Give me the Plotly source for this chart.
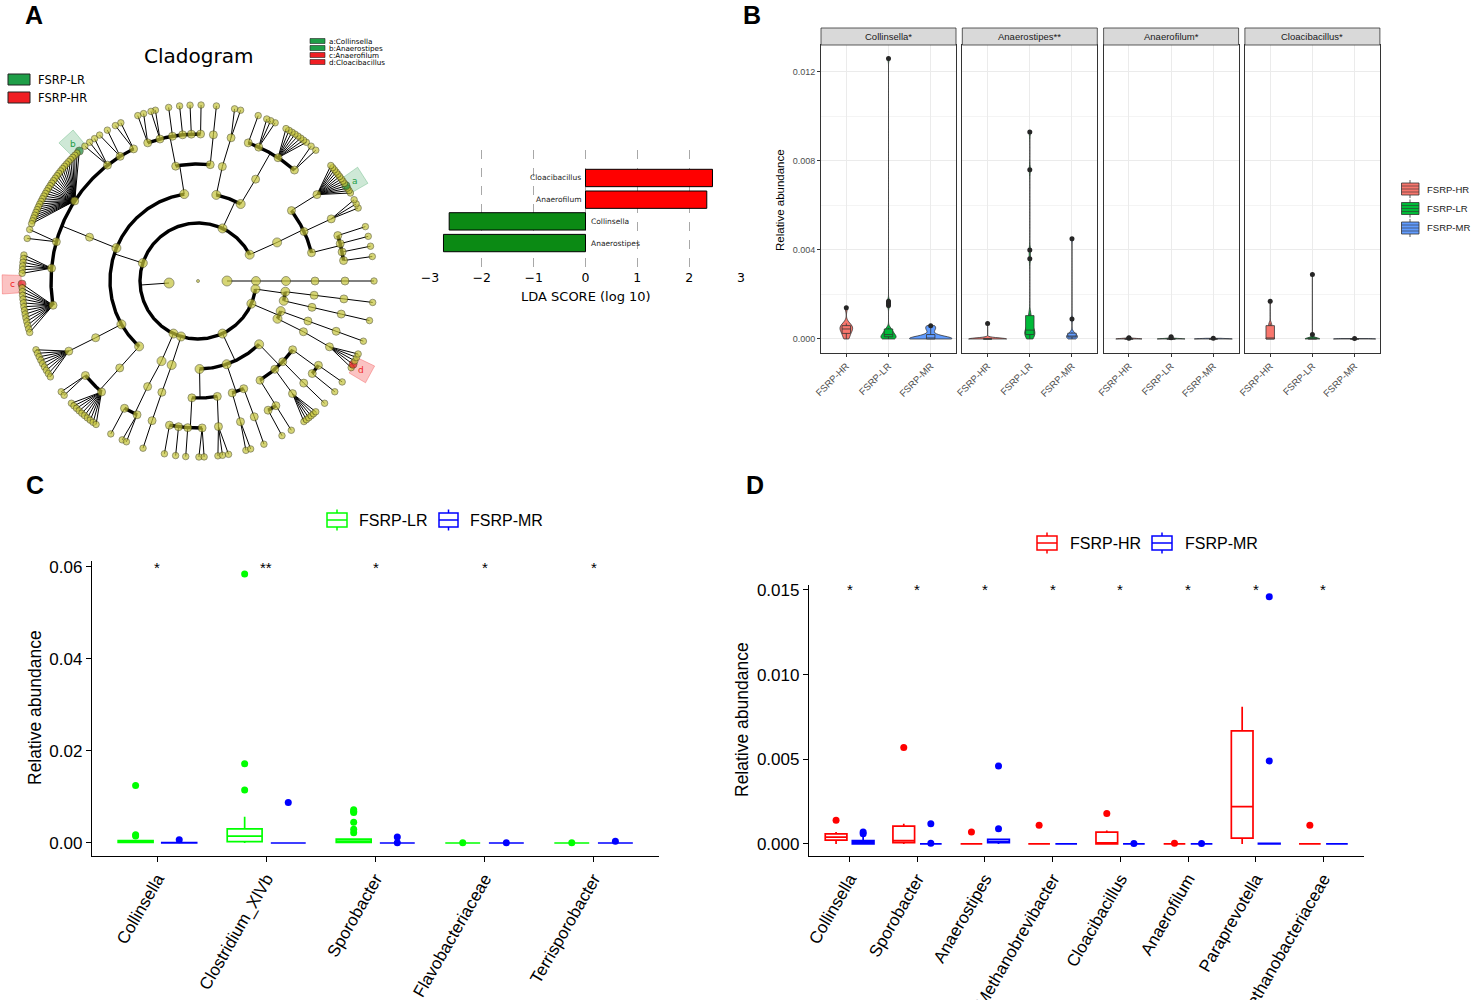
import math
import plotly.graph_objects as go

W, H = 1476, 1000
SANS = "Liberation Sans, Arial, sans-serif"
MPL = "DejaVu Sans, sans-serif"


def px(x):
    return x / W


def py(y):
    return 1 - y / H


# ---------------- data: panel A (LEfSe) ----------------
lda_taxa = ["Anaerostipes", "Collinsella", "Anaerofilum", "Cloacibacillus"]
lda_score = [-2.74, -2.63, 2.34, 2.45]
lda_class = ["FSRP-LR", "FSRP-LR", "FSRP-HR", "FSRP-HR"]
class_names = ["FSRP-LR", "FSRP-HR"]
class_colors = {"FSRP-LR": "#1F9E48", "FSRP-HR": "#F01E23"}
bar_colors = {"FSRP-LR": "#0B8A14", "FSRP-HR": "#FF0000"}

# biomarkers on the cladogram: letter, taxon, class, angle of the leaf
marker_letters = ["a", "b", "c", "d"]
marker_taxa = ["Collinsella", "Anaerostipes", "Anaerofilum", "Cloacibacillus"]
marker_class = ["FSRP-LR", "FSRP-LR", "FSRP-HR", "FSRP-HR"]
marker_angle = [32.7, 132.4, 181, 331.5]

# taxonomy tree: [angle, child, ...]; a number is a leaf,
# ("fan", from, to, n) is a fan of n leaves between two angles
FAN = "fan"
clade_tree = [
    0,
    [0, [0, [0, [0, [0, 0]]]]],
    [184,
        [27, [26,
              [37, [36, (FAN, 30, 41, 13)]],
              [25, [25, 24.5, 26, 27.5]],
              [14, [18, 18], [14.7, 14.7], [11.4, 11.4], [8, 8]]]],
        [65,
            [78, [78, [77, 76, 78]]],
            [61, [60.5, [70, 70], [65.6, 64, 65.6, 67], [57, (FAN, 52, 60, 8)], [49, 48, 50]]]],
        [162,
            [99, [101, [110, 108, 110], [105, 104, 105.5], [100, 99.6], [96, 96], [92.6, 92.6], [89, 89]],
                 [84, [84, 84]]],
            [158, [158, [116, 116, 118], [122, 121, 124], [128, 126, 128, 130],
                   [147, (FAN, 132.4, 161, 30)], [164.5, 163, 166],
                   [175, (FAN, 171.5, 177.5, 6)], [189.5, (FAN, 181, 197, 14)]]],
            [209.5, [209, [208.5, (FAN, 203, 213, 9)]]],
            [228, [228, [220, 219, 220.5], [229, (FAN, 224, 234.6, 10)]]]],
        [245, [245.5, [244.5, [240, 240.3], [245.5, 244.5, 246]]]],
        [253, [252.6, [252, [251.8, 251.8]]]],
        [295,
            [271, [267, [258.8, 259], [262.4, 262.7], [266, 266], [271.6, 270.3, 272]],
                  [279.5, [278, 276.5, 278, 280]]],
            [289, [287, [286.8, 285.8, 287.4]], [293, [292.5, 292]]],
            [314, [302, [298.5, 298.5], [302, 302]],
                  [311, [310, (FAN, 307, 312, 6)]],
                  [316.4, [316, 316]],
                  [324, [321, 321], [325, 325]]]],
        [337, [334.6, [334.3, [333.4, (FAN, 330.5, 335.5, 5)]]],
              [340, [340, [340, 340]]]],
        [352, [353, [353, [353, 353]]], [347, [347, [347, 347]]]]],
]

# ---------------- data: panel B ----------------
b_facets = ["Collinsella*", "Anaerostipes**", "Anaerofilum*", "Cloacibacillus*"]
b_groups = ["FSRP-HR", "FSRP-LR", "FSRP-MR"]
b_colors = ["#F8766D", "#00BA38", "#619CFF"]
# each: [HR, LR, MR]
b_collinsella = [
    [0, 0.0001, 0.0002, 0.0003, 0.0004, 0.0004, 0.0005, 0.0005, 0.0006, 0.0006, 0.0007, 0.0014],
    [0, 0, 0, 0, 0.0001, 0.0001, 0.0001, 0.0001, 0.0002, 0.0002, 0.0002, 0.0003, 0.0003,
     0.0004, 0.0004, 0.0005, 0.0015, 0.0016, 0.0017, 0.0126],
    [0, 0, 0, 0, 0, 0, 0, 0, 0.0001, 0.0001, 0.0002, 0.0004, 0.0005, 0.0006],
]
b_anaerostipes = [
    [0, 0, 0, 0, 0, 0, 0, 0, 0, 0, 0, 0.0007],
    [0, 0.0001, 0.0001, 0.0001, 0.0002, 0.0002, 0.0003, 0.0003, 0.0004, 0.0004, 0.0004, 0.0005,
     0.0006, 0.0008, 0.0010, 0.0011, 0.0036, 0.0040, 0.0076, 0.0093],
    [0, 0.00005, 0.00005, 0.0001, 0.0001, 0.0001, 0.0001, 0.00015, 0.0002, 0.00025, 0.0003, 0.0009, 0.0045],
]
b_anaerofilum = [
    [0, 0, 0, 0, 0, 0, 0, 0, 0, 0, 0.00003, 0.00005],
    [0, 0, 0, 0, 0, 0, 0, 0, 0, 0, 0.00005, 0.0001],
    [0, 0, 0, 0, 0, 0, 0, 0, 0, 0, 0, 0.00003],
]
b_cloacibacillus = [
    [0, 0, 0, 0, 0, 0, 0, 0.0002, 0.0006, 0.0006, 0.0007, 0.0017],
    [0, 0, 0, 0, 0, 0, 0, 0, 0, 0.0001, 0.0002, 0.0029],
    [0, 0, 0, 0, 0, 0, 0, 0, 0, 0, 0, 0.00002],
]
b_data = [b_collinsella, b_anaerostipes, b_anaerofilum, b_cloacibacillus]
b_violin_width = [[0.3, 0.36, 1.0], [0.9, 0.24, 0.26], [0.62, 0.66, 0.9], [0.2, 0.35, 1.0]]
b_bandwidth = [[0.00015, 0.0001, 0.0001], [0.00005, 0.0002, 0.0001],
               [0.00002, 0.00002, 0.00002], [0.0001, 0.00005, 0.00002]]

# ---------------- data: panel C ----------------
c_taxa = ["Collinsella", "Clostridium_XlVb", "Sporobacter", "Flavobacteriaceae", "Terrisporobacter"]
c_stars = ["*", "**", "*", "*", "*"]
c_lr = [
    [0, 0, 0.0001, 0.0001, 0.0002, 0.0002, 0.0002, 0.0003, 0.0003, 0.0004, 0.0005, 0.0005,
     0.0015, 0.0018, 0.0125],
    [0, 0, 0.0001, 0.0001, 0.0002, 0.0003, 0.0005, 0.0008, 0.0010, 0.0012, 0.0015, 0.0017,
     0.0019, 0.0021, 0.0022, 0.0024, 0.0050, 0.0057, 0.0115, 0.0172, 0.0585],
    [0, 0, 0, 0, 0.0001, 0.0001, 0.0001, 0.0002, 0.0002, 0.0002, 0.0003, 0.0003, 0.0003, 0.0004,
     0.0004, 0.0005, 0.0005, 0.0006, 0.0007, 0.0008, 0.0008, 0.0009,
     0.0022, 0.0030, 0.0045, 0.0066, 0.0069, 0.0072],
    [0, 0, 0, 0, 0, 0, 0, 0, 0, 0, 0.00005],
    [0, 0, 0, 0, 0, 0, 0, 0, 0, 0, 0.00003],
]
c_mr = [
    [0, 0, 0, 0, 0, 0, 0, 0.0001, 0.0001, 0.0002, 0.0007],
    [0, 0, 0, 0, 0, 0, 0, 0, 0, 0, 0.0088],
    [0, 0, 0, 0, 0, 0, 0, 0, 0, 0, 0.00005, 0.0013],
    [0, 0, 0, 0, 0, 0, 0, 0, 0, 0, 0.00005],
    [0, 0, 0, 0, 0, 0, 0, 0, 0, 0, 0.0004],
]

# ---------------- data: panel D ----------------
d_taxa = ["Collinsella", "Sporobacter", "Anaerostipes", "Methanobrevibacter", "Cloacibacillus",
          "Anaerofilum", "Paraprevotella", "Methanobacteriaceae"]
d_stars = ["*", "*", "*", "*", "*", "*", "*", "*"]
d_hr = [
    [0, 0.0001, 0.0002, 0.0003, 0.0004, 0.0004, 0.0005, 0.0006, 0.0006, 0.0007, 0.0014],
    [0, 0, 0.0001, 0.0002, 0.0002, 0.0008, 0.0010, 0.0012, 0.0057],
    [0, 0, 0, 0, 0, 0, 0, 0, 0, 0.0007],
    [0, 0, 0, 0, 0, 0, 0, 0, 0, 0.0011],
    [0, 0, 0, 0, 0, 0.0001, 0.0006, 0.0007, 0.0008, 0.0018],
    [0, 0, 0, 0, 0, 0, 0, 0, 0, 0.00005],
    [0, 0.0002, 0.0004, 0.0012, 0.0022, 0.0035, 0.0064, 0.0075, 0.0081],
    [0, 0, 0, 0, 0, 0, 0, 0, 0, 0.0011],
]
d_mr = [
    [0, 0, 0, 0, 0, 0, 0.0001, 0.0001, 0.0001, 0.0001, 0.0005, 0.0006, 0.0007],
    [0, 0, 0, 0, 0, 0, 0, 0, 0, 0.00005, 0.0012],
    [0, 0.00005, 0.00005, 0.0001, 0.0001, 0.0001, 0.00015, 0.0002, 0.00025, 0.0003, 0.0009, 0.0046],
    [0, 0, 0, 0, 0, 0, 0, 0, 0, 0],
    [0, 0, 0, 0, 0, 0, 0, 0, 0, 0.00003],
    [0, 0, 0, 0, 0, 0, 0, 0, 0, 0.00003],
    [0, 0, 0, 0, 0, 0, 0, 0, 0.00005, 0.0049, 0.0146],
    [0, 0, 0, 0, 0, 0, 0, 0, 0, 0],
]

fig = go.Figure()
shapes = []
annotations = []


def note(x, y, text, size, font=SANS, color="black", xanchor="center", yanchor="middle", **kw):
    annotations.append(dict(x=px(x), y=py(y), xref="paper", yref="paper", text=text,
                            showarrow=False, xanchor=xanchor, yanchor=yanchor,
                            font=dict(family=font, size=size, color=color), **kw))


# ---------------- A: cladogram ----------------
R_LEVEL = [0, 29, 58, 88, 117, 147, 176]
CX, CY = 198, 281


def pol(r, a):
    t = math.radians(a)
    return CX + r * math.cos(t), CY - r * math.sin(t)


thin_x, thin_y, thick_x, thick_y = [], [], [], []
nodes = []


def seg(xs, ys, pts):
    for p in pts:
        xs.append(p[0])
        ys.append(p[1])
    xs.append(None)
    ys.append(None)


def expand(children):
    out = []
    for c in children:
        if isinstance(c, tuple):
            _, a0, a1, n = c
            out += [a0 + (a1 - a0) * i / (n - 1) for i in range(n)]
        else:
            out.append(c)
    return out


def angle_of(n):
    return n if isinstance(n, (int, float)) else n[0]


def walk(node, level):
    if isinstance(node, (int, float)):
        nodes.append((level, node))
        return
    ang = node[0]
    kids = expand(node[1:])
    nodes.append((level, ang))
    kid_ang = [angle_of(k) for k in kids]
    if level > 0:
        r0, r1 = R_LEVEL[level], R_LEVEL[level + 1]
        if level + 1 == 6 or len(kids) == 1:
            for a in kid_ang:
                seg(thin_x, thin_y, [pol(r0, ang), pol(r1, a)])
        else:
            seg(thin_x, thin_y, [pol(r0, ang), pol(r1, ang)])
            lo, hi = min(kid_ang + [ang]), max(kid_ang + [ang])
            steps = max(2, int((hi - lo) * 2))
            seg(thick_x, thick_y, [pol(r1, lo + (hi - lo) * i / steps) for i in range(steps + 1)])
    for k in kids:
        walk(k, level + 1)


walk(clade_tree, 0)

leaf_idx = [i for i, n in enumerate(nodes) if n[0] == 6]
highlight = {}
for letter, cls, a in zip(marker_letters, marker_class, marker_angle):
    best = min(leaf_idx, key=lambda i: abs(nodes[i][1] - a))
    highlight[best] = cls

node_size = {0: 3, 1: 10, 2: 9, 3: 9, 4: 8, 5: 8, 6: 6.5}
nx, ny, ns, nc = [], [], [], []
for i, (lvl, a) in enumerate(nodes):
    x, y = pol(R_LEVEL[lvl], a)
    nx.append(x)
    ny.append(y)
    if i in highlight:
        ns.append(8)
        nc.append("#1A8A3A" if highlight[i] == "FSRP-LR" else "#E8141B")
    else:
        ns.append(node_size[lvl])
        nc.append("#C5C43A")

fig.add_trace(go.Scatter(x=thin_x, y=thin_y, mode="lines", line=dict(color="black", width=1),
                         xaxis="x", yaxis="y", hoverinfo="skip", showlegend=False))
fig.add_trace(go.Scatter(x=thick_x, y=thick_y, mode="lines", line=dict(color="black", width=3.4),
                         xaxis="x", yaxis="y", hoverinfo="skip", showlegend=False))
fig.add_trace(go.Scatter(x=nx, y=ny, mode="markers",
                         marker=dict(size=ns, color=nc, line=dict(color="#3A3A12", width=0.7)),
                         xaxis="x", yaxis="y", hoverinfo="skip", showlegend=False))

# biomarker label boxes
for letter, cls, a in zip(marker_letters, marker_class, marker_angle):
    pts = [pol(177, a - 2.8), pol(196, a - 2.8), pol(196, a + 2.8), pol(177, a + 2.8)]
    path = "M " + " L ".join(f"{x:.1f},{y:.1f}" for x, y in pts) + " Z"
    fill = "rgba(30,150,70,0.22)" if cls == "FSRP-LR" else "rgba(240,40,40,0.28)"
    edge = "rgba(30,150,70,0.35)" if cls == "FSRP-LR" else "rgba(240,40,40,0.4)"
    shapes.append(dict(type="path", path=path, xref="x", yref="y", fillcolor=fill,
                       line=dict(color=edge, width=0.8), layer="below"))
    lx, ly = pol(186, a)
    annotations.append(dict(x=lx, y=ly, xref="x", yref="y", text=letter, showarrow=False,
                            xanchor="center", yanchor="middle",
                            font=dict(family=MPL, size=9, color=class_colors[cls])))

note(198, 56, "Cladogram", 20, MPL)
for k, cls in enumerate(class_names):
    y0 = 74 + k * 18
    shapes.append(dict(type="rect", xref="paper", yref="paper", x0=px(8), x1=px(30), y0=py(y0 + 11),
                       y1=py(y0), fillcolor=class_colors[cls], line=dict(color="#222", width=1)))
    note(36, y0 + 5.5, cls, 11.5, MPL, xanchor="left")
for k, (letter, taxon, cls) in enumerate(zip(marker_letters, marker_taxa, marker_class)):
    y0 = 38.5 + k * 7
    shapes.append(dict(type="rect", xref="paper", yref="paper", x0=px(310), x1=px(325), y0=py(y0 + 5),
                       y1=py(y0), fillcolor=class_colors[cls], line=dict(color="#222", width=0.6)))
    note(327, y0 + 2.6, f"{letter}:{taxon}", 7.2, MPL, xanchor="left")

# ---------------- A: LDA bars ----------------
fig.add_trace(go.Bar(x=lda_score, y=lda_taxa, orientation="h", width=0.8,
                     marker=dict(color=[bar_colors[c] for c in lda_class], line=dict(color="black", width=1)),
                     xaxis="x2", yaxis="y2", hoverinfo="skip", showlegend=False))
for t, s in zip(lda_taxa, lda_score):
    annotations.append(dict(x=0, y=t, xref="x2", yref="y2", text=t, showarrow=False,
                            xanchor="right" if s > 0 else "left", yanchor="middle",
                            xshift=-3 if s > 0 else 3,
                            font=dict(family=MPL, size=7.5, color="#222")))
note(586, 296, "LDA SCORE (log 10)", 13, MPL)

# ---------------- B: violins per genus ----------------
B_X0, B_W, B_STEP = 821, 135, 141.3
for i, (facet, groups) in enumerate(zip(b_facets, b_data)):
    xa, ya = f"x{3 + i}", f"y{3 + i}"
    for j, (g, col, vals) in enumerate(zip(b_groups, b_colors, groups)):
        fig.add_trace(go.Violin(y=vals, x0=g, name=g, width=b_violin_width[i][j], bandwidth=b_bandwidth[i][j],
                                spanmode="hard", scalemode="width", points=False, fillcolor=col,
                                line=dict(color="#333333", width=0.8), opacity=1,
                                xaxis=xa, yaxis=ya, hoverinfo="skip", showlegend=False))
    for j, (g, col, vals) in enumerate(zip(b_groups, b_colors, groups)):
        fig.add_trace(go.Box(y=vals, x0=g, name=g, width=0.2, fillcolor=col, boxpoints="outliers",
                             whiskerwidth=0, line=dict(color="#333333", width=0.8),
                             marker=dict(color="#262626", size=5, line=dict(width=0)),
                             xaxis=xa, yaxis=ya, hoverinfo="skip", showlegend=False))
    x0 = B_X0 + i * B_STEP
    shapes.append(dict(type="rect", xref="paper", yref="paper", x0=px(x0), x1=px(x0 + B_W),
                       y0=py(45), y1=py(28), fillcolor="#D9D9D9", line=dict(color="#333333", width=0.8)))
    note(x0 + B_W / 2, 36.5, facet, 9.5, color="#1A1A1A")

note(780, 200, "Relative abundance", 11.5, textangle=-90)
for j, (g, col) in enumerate(zip(b_groups, b_colors)):
    yc = 189 + j * 19.5
    shapes.append(dict(type="line", xref="paper", yref="paper", x0=px(1410), x1=px(1410),
                       y0=py(yc - 9), y1=py(yc + 9), line=dict(color="#333333", width=0.8)))
    shapes.append(dict(type="rect", xref="paper", yref="paper", x0=px(1401.5), x1=px(1419),
                       y0=py(yc + 6), y1=py(yc - 6), fillcolor=col, line=dict(color="#333333", width=0.8)))
    for dy in (-3, 0, 3):
        shapes.append(dict(type="line", xref="paper", yref="paper", x0=px(1401.5), x1=px(1419),
                           y0=py(yc + dy), y1=py(yc + dy), line=dict(color="#333333", width=0.6)))
    note(1425, yc, g, 9.5, xanchor="left", color="#1A1A1A")


# ---------------- C and D: grouped boxes ----------------
def add_boxes(taxa, series, xa, ya):
    for name, col, vals in series:
        xs = [t for t, v in zip(taxa, vals) for _ in v]
        ys = [y for v in vals for y in v]
        fig.add_trace(go.Box(x=xs, y=ys, name=name, offsetgroup=name, boxpoints="outliers", whiskerwidth=0,
                             fillcolor="rgba(255,255,255,0)", line=dict(color=col, width=1.7),
                             marker=dict(color=col, size=7, line=dict(width=0)),
                             xaxis=xa, yaxis=ya, hoverinfo="skip", showlegend=False))


add_boxes(c_taxa, [("FSRP-LR", "#00FF00", c_lr), ("FSRP-MR", "#0000FF", c_mr)], "x7", "y7")
add_boxes(d_taxa, [("FSRP-HR", "#FF0000", d_hr), ("FSRP-MR ", "#0000FF", d_mr)], "x8", "y8")

for t, s in zip(c_taxa, c_stars):
    annotations.append(dict(x=t, y=0.0603, xref="x7", yref="y7", text=s, showarrow=False,
                            xanchor="center", yanchor="middle", yshift=-2,
                            font=dict(family=SANS, size=15, color="black")))
for t, s in zip(d_taxa, d_stars):
    annotations.append(dict(x=t, y=0.01515, xref="x8", yref="y8", text=s, showarrow=False,
                            xanchor="center", yanchor="middle", yshift=-2,
                            font=dict(family=SANS, size=15, color="black")))

note(35, 708, "Relative abundance", 17.5, textangle=-90)
note(742, 720, "Relative abundance", 17.5, textangle=-90)


def legend_key(x0, x1, yc, col):
    xm = (x0 + x1) / 2
    shapes.append(dict(type="line", xref="paper", yref="paper", x0=px(xm), x1=px(xm),
                       y0=py(yc - 10.5), y1=py(yc + 10.5), line=dict(color=col, width=1.5)))
    shapes.append(dict(type="rect", xref="paper", yref="paper", x0=px(x0), x1=px(x1),
                       y0=py(yc + 7), y1=py(yc - 7), fillcolor="white", line=dict(color=col, width=1.5)))
    shapes.append(dict(type="line", xref="paper", yref="paper", x0=px(x0), x1=px(x1),
                       y0=py(yc), y1=py(yc), line=dict(color=col, width=1.5)))


legend_key(327, 347, 520, "#00FF00")
note(357, 520, "FSRP-LR", 16, xanchor="left")
legend_key(439, 458, 520, "#0000FF")
note(468, 520, "FSRP-MR", 16, xanchor="left")
legend_key(1037, 1057, 543, "#FF0000")
note(1068, 543, "FSRP-HR", 16, xanchor="left")
legend_key(1152, 1172, 543, "#0000FF")
note(1183, 543, "FSRP-MR", 16, xanchor="left")

for letter, (x, y) in zip("ABCD", [(34, 15), (752, 15), (35, 485), (755, 485)]):
    note(x, y, f"<b>{letter}</b>", 25)

# ---------------- layout ----------------
layout = dict(
    width=W, height=H, margin=dict(l=0, r=0, t=0, b=0, autoexpand=False),
    paper_bgcolor="white", plot_bgcolor="white",
    showlegend=False, boxmode="group", boxgap=0.2, boxgroupgap=0.2, violinmode="overlay",
    shapes=shapes, annotations=annotations,
    xaxis=dict(domain=[0, px(400)], range=[0, 400], visible=False, fixedrange=True, automargin=False),
    yaxis=dict(domain=[py(470), py(70)], range=[470, 70], visible=False, fixedrange=True, automargin=False),
    xaxis2=dict(domain=[px(430), px(741)], range=[-3, 3], tickvals=[-3, -2, -1, 0, 1, 2, 3],
                showgrid=True, griddash="dash", gridcolor="#A8A8A8", gridwidth=0.8, zeroline=False,
                showline=False, ticks="", tickfont=dict(family=MPL, size=12.5, color="black"), anchor="y2",
                automargin=False),
    yaxis2=dict(domain=[py(268), py(150)], range=[-1.15, 4.29], type="category",
                categoryorder="array", categoryarray=lda_taxa, showgrid=False, showticklabels=False,
                zeroline=False, showline=False, anchor="x2", automargin=False),
)
for i in range(4):
    x0 = B_X0 + i * B_STEP
    layout[f"xaxis{3 + i}"] = dict(
        domain=[px(x0), px(x0 + B_W)], type="category", categoryorder="array", categoryarray=b_groups,
        range=[-0.6, 2.6], showgrid=True, gridcolor="#EBEBEB", showline=True, mirror=True,
        linecolor="#333333", linewidth=0.8, ticks="outside", ticklen=3, tickcolor="#333333",
        tickangle=-45, tickfont=dict(family=SANS, size=9.5, color="#4D4D4D"), anchor=f"y{3 + i}",
        automargin=False)
    layout[f"yaxis{3 + i}"] = dict(
        domain=[py(353), py(45)], range=[-0.00063, 0.01321], tickvals=[0, 0.004, 0.008, 0.012],
        ticktext=["0.000", "0.004", "0.008", "0.012"], showticklabels=(i == 0),
        ticks="outside" if i == 0 else "", ticklen=3, tickcolor="#333333",
        tickfont=dict(family=SANS, size=9, color="#4D4D4D"),
        showgrid=True, gridcolor="#EBEBEB", zeroline=False, showline=True, mirror=True,
        linecolor="#333333", linewidth=0.8, anchor=f"x{3 + i}", automargin=False,
        minor=dict(tickvals=[0.002, 0.006, 0.010], showgrid=True, gridcolor="#F4F4F4", gridwidth=0.6))

axis_common = dict(showline=True, linecolor="black", linewidth=1.3, ticks="outside", ticklen=5,
                   tickwidth=1.2, tickcolor="black", showgrid=False, zeroline=False, automargin=False,
                   tickfont=dict(family=SANS, size=17, color="black"))
layout["xaxis7"] = dict(domain=[px(92), px(659)], type="category", categoryorder="array",
                        categoryarray=c_taxa, range=[-0.6, 4.6], tickangle=-60, anchor="y7", **axis_common)
layout["yaxis7"] = dict(domain=[py(856), py(561)], range=[-0.00283, 0.0613], tickvals=[0, 0.02, 0.04, 0.06],
                        ticktext=["0.00", "0.02", "0.04", "0.06"], anchor="x7", **axis_common)
layout["xaxis8"] = dict(domain=[px(809), px(1364)], type="category", categoryorder="array",
                        categoryarray=d_taxa, range=[-0.6, 7.6], tickangle=-60, anchor="y8", **axis_common)
layout["yaxis8"] = dict(domain=[py(856), py(585)], range=[-0.00071, 0.01529],
                        tickvals=[0, 0.005, 0.010, 0.015], ticktext=["0.000", "0.005", "0.010", "0.015"],
                        anchor="x8", **axis_common)

fig.update_layout(**layout)
fig.write_html("out.html", config={"displayModeBar": False},
               post_script="document.body.style.margin = '0px';")
